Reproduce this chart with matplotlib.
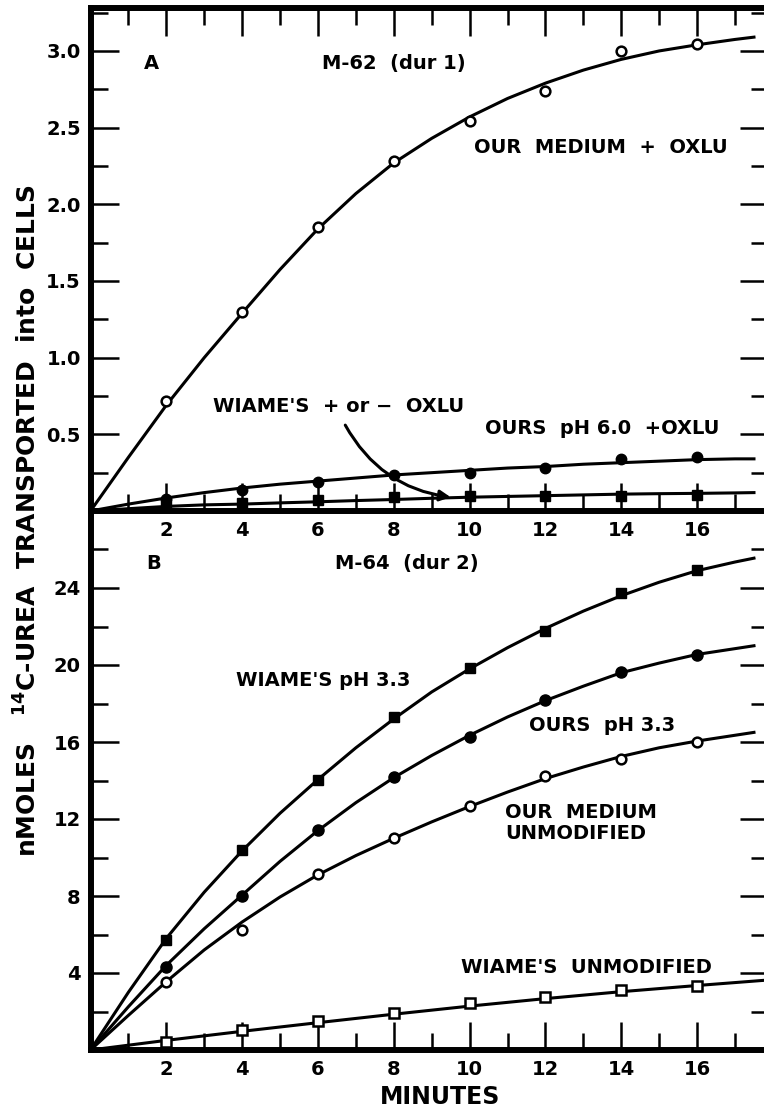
import matplotlib
matplotlib.use("Agg")
import matplotlib.pyplot as plt
from matplotlib.patches import FancyArrowPatch
from matplotlib.ticker import MultipleLocator, FixedLocator

plt.rcParams['font.family'] = ['DejaVu Sans']
plt.rcParams['font.weight'] = 'bold'
plt.rcParams['mathtext.default'] = 'bf'

# ---------------- data ----------------
minutes = [2, 4, 6, 8, 10, 12, 14, 16]

# Panel A  (M-62, dur 1)
a_our_oxlu = [0.72, 1.30, 1.85, 2.28, 2.54, 2.74, 3.00, 3.045]
a_ours_ph6 = [0.08, 0.14, 0.19, 0.235, 0.245, 0.28, 0.34, 0.35]
a_wiame = [0.05, 0.05, 0.07, 0.09, 0.10, 0.10, 0.10, 0.105]

# fitted curves drawn by hand in the original, read at each minute
curve_x = [0, 1, 2, 3, 4, 5, 6, 7, 8, 9, 10, 11, 12, 13, 14, 15, 16, 17, 17.5]
a_our_oxlu_curve = [0, 0.35, 0.69, 1.00, 1.29, 1.575, 1.84, 2.07, 2.27, 2.43, 2.57,
                    2.69, 2.79, 2.875, 2.945, 3.00, 3.04, 3.075, 3.09]
a_ours_ph6_curve = [0, 0.045, 0.085, 0.12, 0.15, 0.175, 0.195, 0.215, 0.235, 0.25,
                    0.265, 0.28, 0.29, 0.305, 0.315, 0.325, 0.335, 0.34, 0.34]
a_wiame_curve = [0, 0.015, 0.03, 0.04, 0.045, 0.053, 0.06, 0.068, 0.075, 0.083, 0.09,
                 0.095, 0.10, 0.105, 0.11, 0.113, 0.115, 0.118, 0.12]

# Panel B  (M-64, dur 2)
b_wiame_ph33 = [5.72, 10.37, 14.02, 17.3, 19.85, 21.75, 23.74, 24.95]
b_ours_ph33 = [4.3, 7.99, 11.43, 14.18, 16.25, 18.18, 19.65, 20.54]
b_our_unmod = [3.53, 6.22, 9.12, 11.02, 12.66, 14.22, 15.13, 15.98]
b_wiame_unmod = [0.42, 1.02, 1.51, 1.92, 2.44, 2.75, 3.13, 3.33]

b_wiame_ph33_curve = [0, 3.0, 5.8, 8.2, 10.35, 12.3, 14.05, 15.7, 17.2, 18.6, 19.8,
                      20.9, 21.9, 22.8, 23.6, 24.3, 24.9, 25.35, 25.55]
b_ours_ph33_curve = [0, 2.25, 4.4, 6.3, 8.05, 9.8, 11.4, 12.85, 14.15, 15.3, 16.35,
                     17.3, 18.15, 18.9, 19.6, 20.1, 20.55, 20.85, 21.0]
b_our_unmod_curve = [0, 1.8, 3.55, 5.2, 6.65, 7.95, 9.1, 10.1, 11.0, 11.85, 12.65,
                     13.4, 14.1, 14.7, 15.25, 15.7, 16.05, 16.35, 16.5]
wu_curve_x = [0, 2, 4, 6, 8, 10, 12, 14, 16, 17.9]
b_wiame_unmod_curve = [0, 0.5, 0.97, 1.42, 1.86, 2.28, 2.67, 3.03, 3.35, 3.64]

x_ticks = [2, 4, 6, 8, 10, 12, 14, 16]
a_yticks = [0.5, 1.0, 1.5, 2.0, 2.5, 3.0]
a_ylabels = ["0.5", "1.0", "1.5", "2.0", "2.5", "3.0"]
b_yticks = [4, 8, 12, 16, 20, 24]

# ---------------- layout ----------------
W, H = 764, 1109
fig = plt.figure(figsize=(W / 100, H / 100), dpi=100)


def rect(l, t, r, b):
    return [l / W, 1 - b / H, (r - l) / W, (b - t) / H]


axA = fig.add_axes(rect(90.5, 8, 768, 511))
axB = fig.add_axes(rect(90.5, 511, 768, 1050))
axA.set_zorder(3)
axB.set_zorder(2)

XMAX = 17.87
LW = 2.2
SP = 4.3
FS = 14

for ax in (axA, axB):
    ax.set_xlim(0, XMAX)
    for s in ax.spines.values():
        s.set_linewidth(SP)
    ax.xaxis.set_major_locator(FixedLocator(x_ticks))
    ax.xaxis.set_minor_locator(MultipleLocator(1))
    ax.tick_params(which='both', direction='in', width=1.8, colors='black',
                   labelsize=FS, pad=7, right=True)
    ax.tick_params(which='major', length=20)
    ax.tick_params(which='minor', length=12)
    ax.set_xticklabels([str(v) for v in x_ticks], fontweight='bold')

axA.set_ylim(0, 3.28)
axA.yaxis.set_major_locator(FixedLocator(a_yticks))
axA.yaxis.set_minor_locator(MultipleLocator(0.25))
axA.set_yticklabels(a_ylabels, fontweight='bold')
axA.tick_params(axis='x', which='both', top=True)

axB.set_ylim(0, 28)
axB.yaxis.set_major_locator(FixedLocator(b_yticks))
axB.yaxis.set_minor_locator(MultipleLocator(2))
axB.set_yticklabels([str(v) for v in b_yticks], fontweight='bold')
axB.spines['top'].set_visible(False)
axB.tick_params(axis='x', which='both', top=False)

# ---------------- panel A ----------------
axA.plot(curve_x, a_our_oxlu_curve, color='black', lw=LW, zorder=3)
axA.plot(curve_x, a_ours_ph6_curve, color='black', lw=LW, zorder=3)
axA.plot(curve_x, a_wiame_curve, color='black', lw=LW, zorder=3)
axA.plot(minutes, a_our_oxlu, 'o', ms=7, mfc='white', mec='black', mew=1.8, zorder=4)
axA.plot(minutes, a_ours_ph6, 'o', ms=7.5, color='black', zorder=4)
axA.plot(minutes, a_wiame, 's', ms=6.5, color='black', zorder=4)

axA.text(1.6, 2.92, "A", fontsize=FS, ha='center', va='center')
axA.text(8.0, 2.92, "M-62  (dur 1)", fontsize=FS, ha='center', va='center')
axA.text(13.45, 2.37, "OUR  MEDIUM  +  OXLU", fontsize=FS, ha='center', va='center')
axA.text(6.55, 0.68, "WIAME'S  + or −  OXLU", fontsize=FS, ha='center', va='center')
axA.text(13.5, 0.54, "OURS  pH 6.0  +OXLU", fontsize=FS, ha='center', va='center')
arrow = FancyArrowPatch((6.72, 0.56), (9.5, 0.09), arrowstyle='-|>',
                        connectionstyle='arc3,rad=0.25', mutation_scale=16,
                        lw=2.2, color='black', shrinkA=0, shrinkB=0, zorder=5)
axA.add_patch(arrow)

# ---------------- panel B ----------------
axB.plot(curve_x, b_wiame_ph33_curve, color='black', lw=LW, zorder=3)
axB.plot(curve_x, b_ours_ph33_curve, color='black', lw=LW, zorder=3)
axB.plot(curve_x, b_our_unmod_curve, color='black', lw=LW, zorder=3)
axB.plot(wu_curve_x, b_wiame_unmod_curve, color='black', lw=LW, zorder=3)
axB.plot(minutes, b_wiame_ph33, 's', ms=7, color='black', zorder=4)
axB.plot(minutes, b_ours_ph33, 'o', ms=8, color='black', zorder=4)
axB.plot(minutes, b_our_unmod, 'o', ms=7, mfc='white', mec='black', mew=1.8, zorder=4)
axB.plot(minutes, b_wiame_unmod, 's', ms=6.5, mfc='white', mec='black', mew=1.8, zorder=4)

axB.text(1.67, 25.25, "B", fontsize=FS, ha='center', va='center')
axB.text(8.33, 25.25, "M-64  (dur 2)", fontsize=FS, ha='center', va='center')
axB.text(6.14, 19.2, "WIAME'S pH 3.3", fontsize=FS, ha='center', va='center')
axB.text(13.5, 16.85, "OURS  pH 3.3", fontsize=FS, ha='center', va='center')
axB.text(10.93, 11.8, "OUR  MEDIUM\nUNMODIFIED", fontsize=FS, ha='left', va='center',
         linespacing=1.15)
axB.text(13.08, 4.3, "WIAME'S  UNMODIFIED", fontsize=FS, ha='center', va='center')

fig.text(440 / W, 1 - 1097 / H, "MINUTES", fontsize=17, ha='center', va='center')
fig.text(28 / W, 1 - 521 / H,
         r"nMOLES   $^{14}$C-UREA  TRANSPORTED  into  CELLS",
         fontsize=18, rotation=90, ha='center', va='center')

fig.savefig("out.png", dpi=100)
